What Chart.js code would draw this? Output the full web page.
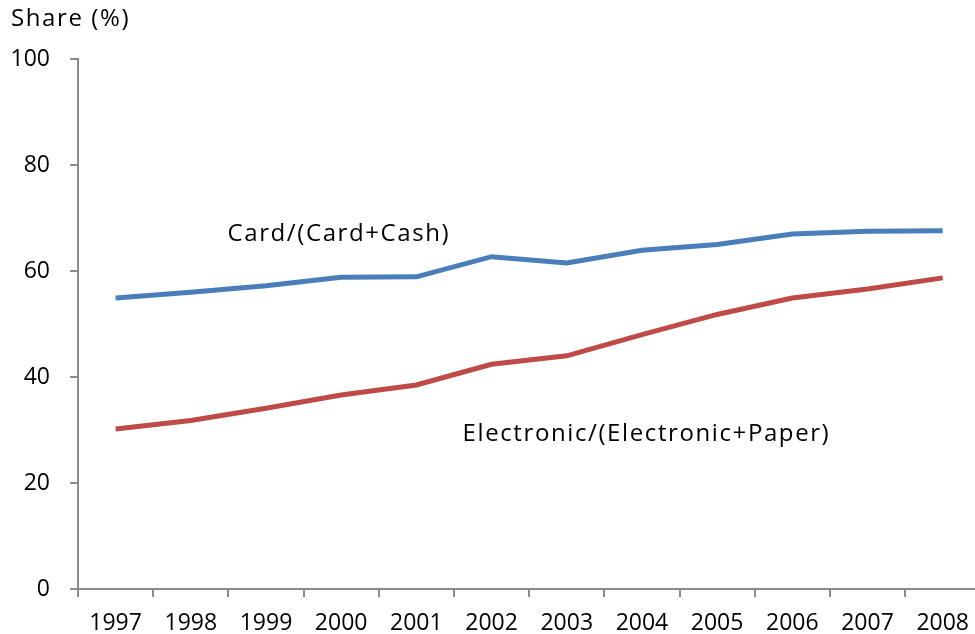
<!DOCTYPE html>
<html>
<head>
<meta charset="utf-8">
<script src="https://cdn.jsdelivr.net/npm/chart.js@4/dist/chart.umd.min.js"></script>
<style>
  html, body { margin: 0; padding: 0; background: #fff; overflow: hidden; }
  #wrap { width: 982px; height: 634px; }
</style>
</head>
<body>
<div id="wrap"><canvas id="chart"></canvas></div>
<script>
const years = ["1997","1998","1999","2000","2001","2002","2003","2004","2005","2006","2007","2008"];
const cardShare = [54.9, 56.0, 57.2, 58.8, 58.9, 62.7, 61.5, 63.9, 65.0, 67.0, 67.5, 67.6];
const electronicShare = [30.2, 31.8, 34.1, 36.6, 38.5, 42.4, 44.0, 48.0, 51.8, 54.9, 56.6, 58.7];
const yTicks = [0, 20, 40, 60, 80, 100];

// series labels sit inside the plot: [text, category index, value]
const seriesLabels = [
  ["Card/(Card+Cash)", 2.97, 66.9],
  ["Electronic/(Electronic+Paper)", 7.06, 29.3]
];

const font = "'Open Sans', 'DejaVu Sans', sans-serif";
const axisGrey = "#8c8c8c";

const textPlugin = {
  id: "texts",
  afterDraw(chart) {
    const ctx = chart.ctx;
    const x = chart.scales.x, y = chart.scales.y;
    ctx.save();
    ctx.letterSpacing = "1.6px"; // the reference text is spaced a bit wider
    ctx.fillStyle = "#000";
    ctx.font = "24px " + font;
    ctx.textBaseline = "middle";
    ctx.textAlign = "center";
    seriesLabels.forEach(l => {
      const step = x.getPixelForValue(1) - x.getPixelForValue(0);
      const px = x.getPixelForValue(0) + l[1] * step;
      ctx.fillText(l[0], px, y.getPixelForValue(l[2]));
    });
    ctx.textAlign = "left";
    ctx.fillText("Share (%)", 11, 19);
    ctx.restore();
  }
};

new Chart(document.getElementById("chart"), {
  type: "line",
  data: {
    labels: years,
    datasets: [
      { label: "Card/(Card+Cash)", data: cardShare, borderColor: "#4A7EBB", borderWidth: 5, pointRadius: 0, tension: 0 },
      { label: "Electronic/(Electronic+Paper)", data: electronicShare, borderColor: "#BE4B48", borderWidth: 5, pointRadius: 0, tension: 0 }
    ]
  },
  options: {
    responsive: true,
    maintainAspectRatio: false,
    animation: false,
    layout: { padding: { top: 59, left: 0, right: 0, bottom: 0 } },
    plugins: { legend: { display: false }, tooltip: { enabled: false } },
    scales: {
      x: {
        offset: true,
        grid: { offset: true, drawOnChartArea: false, drawTicks: true, tickLength: 8, color: axisGrey, lineWidth: 2 },
        border: { color: axisGrey, width: 2 },
        ticks: { color: "#000", font: { size: 23, family: font }, padding: 13, maxRotation: 0 },
        afterFit(s) { s.height = 45; }
      },
      y: {
        min: 0, max: 100,
        afterBuildTicks(s) { s.ticks = yTicks.map(v => ({ value: v })); },
        grid: { drawOnChartArea: false, drawTicks: true, tickLength: 8, color: axisGrey, lineWidth: 2 },
        border: { color: axisGrey, width: 2 },
        ticks: { color: "#000", font: { size: 23, family: font }, padding: 20 },
        afterFit(s) { s.width = 78; }
      }
    }
  },
  plugins: [textPlugin]
});
</script>
</body>
</html>
